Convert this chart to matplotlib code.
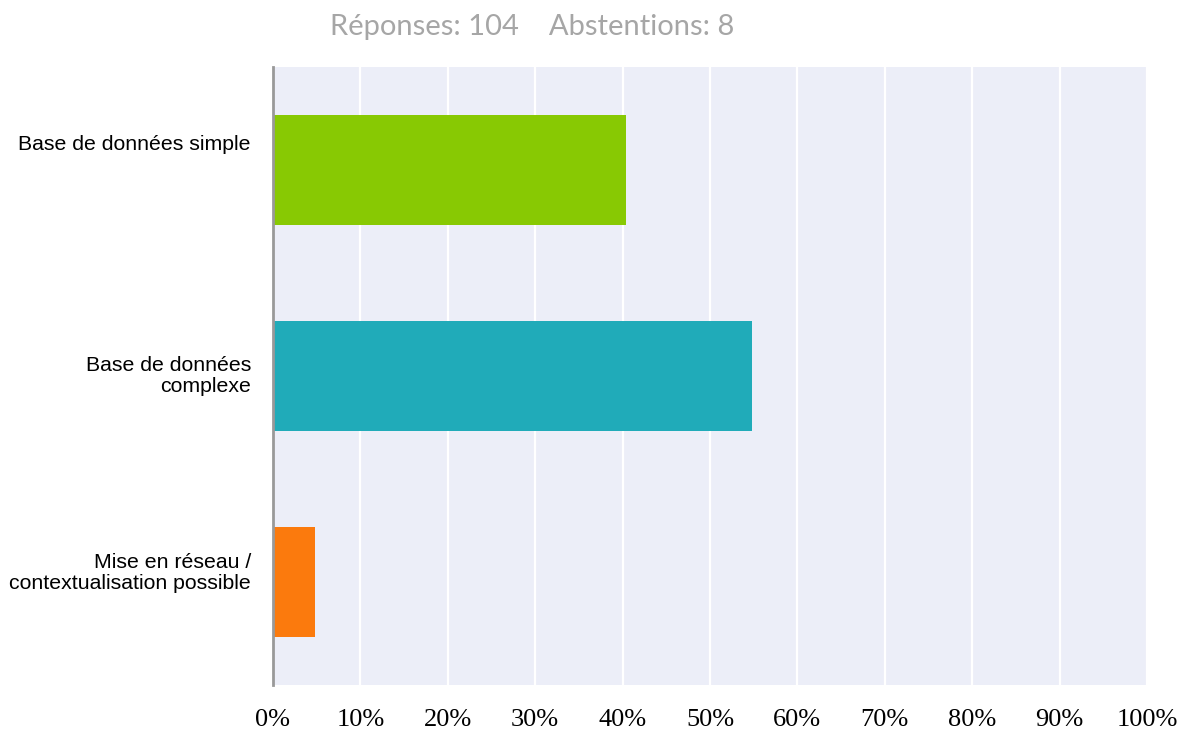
from matplotlib import pyplot as plt
from matplotlib import transforms
import numpy as np

categories = ["Base de données simple",
              "Base de données\ncomplexe",
              "Mise en réseau /\ncontextualisation possible"]
values = [40.38, 54.81, 4.81]
colors = ["#88c903", "#20abb9", "#fb7a0d"]
ticks = [0, 10, 20, 30, 40, 50, 60, 70, 80, 90, 100]
tick_labels = [f"{t}%" for t in ticks]

fig = plt.figure(figsize=(11.84, 7.29), dpi=100)
ax = fig.add_axes([273 / 1184, 44 / 729, 874 / 1184, 618 / 729])
ax.set_facecolor("#eceef8")

y = np.arange(len(categories))
ax.barh(y, values, height=0.535, color=colors, zorder=3)
ax.set_ylim(2.5, -0.5)
ax.set_xlim(0, 100)

ax.set_xticks(ticks)
ax.set_xticklabels(tick_labels, family="Liberation Serif", fontsize=19)
ax.tick_params(axis="x", length=0, pad=17)
ax.set_yticks([])

# category labels, nudged up the way the original renderer placed them
label_shift = [25, 0, 9]  # pixels
base = transforms.blended_transform_factory(ax.transAxes, ax.transData)
for i, cat in enumerate(categories):
    tr = transforms.offset_copy(base, fig=fig, x=-22, y=label_shift[i], units="dots")
    ax.text(0, y[i], cat, transform=tr, ha="right", va="center",
            multialignment="right", family="Liberation Sans", fontsize=15.3,
            linespacing=1.18)

ax.grid(axis="x", color="white", linewidth=1.6, zorder=1)
for s in ["top", "right", "bottom"]:
    ax.spines[s].set_visible(False)
ax.spines["left"].set_color("#999999")
ax.spines["left"].set_linewidth(2)
ax.spines["left"].set_zorder(4)

fig.text(532 / 1184, 1 - 27 / 729, "Réponses: 104    Abstentions: 8",
         ha="center", va="center", color="#a6a6a6", fontsize=21, family="Lato")

fig.savefig("out.png", dpi=100)
